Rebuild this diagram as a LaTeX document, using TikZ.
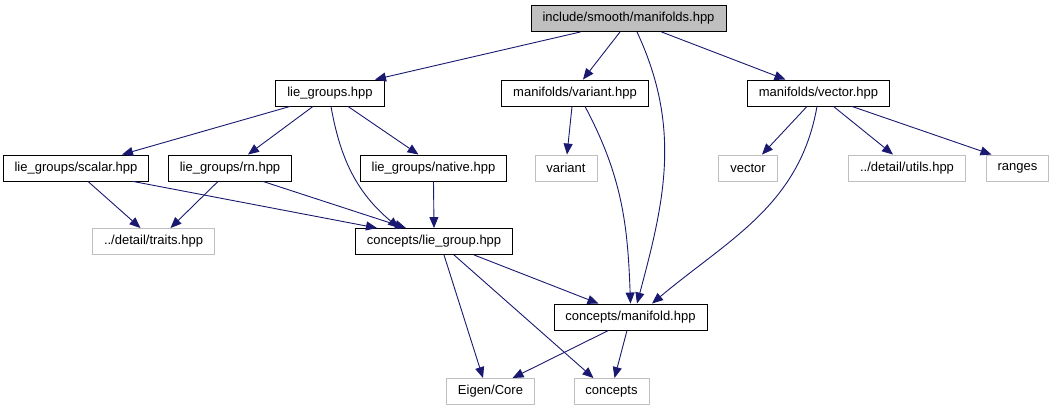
\documentclass[tikz,border=0pt]{standalone}
\usepackage{fontspec}
\setmainfont{Liberation Sans}
\usetikzlibrary{arrows.meta}
\definecolor{edgeblue}{HTML}{191970}
\definecolor{boxgray}{HTML}{BFBFBF}
\tikzset{filebox/.style={draw=black, line width=0.9pt, rectangle, minimum height=26pt, inner xsep=11.5pt, inner ysep=0pt, font=\fontsize{13}{15}\selectfont},
  rootbox/.style={filebox, fill=boxgray},
  sysbox/.style={filebox, draw=boxgray},
  dep/.style={-{Triangle[length=11pt, width=9pt]}, draw=edgeblue, line width=0.9pt}}

\begin{document}
\begin{tikzpicture}[x=1pt, y=-1pt]
  \useasboundingbox (0,0) rectangle (1061,411);
  \node[rootbox] (top)  at (628.5,18.5) {include/smooth/manifolds.hpp};
  \node[filebox] (lgs)  at (330,93)     {lie\_groups.hpp};
  \node[filebox] (varh) at (575,93)     {manifolds/variant.hpp};
  \node[filebox] (vech) at (818.5,93)   {manifolds/vector.hpp};
  \node[filebox] (scal) at (76,168)     {lie\_groups/scalar.hpp};
  \node[filebox] (rn)   at (230,168)    {lie\_groups/rn.hpp};
  \node[filebox] (nat)  at (433.5,168)  {lie\_groups/native.hpp};
  \node[sysbox]  (variant) at (566,168) {variant};
  \node[sysbox]  (vector)  at (748,168) {vector};
  \node[sysbox]  (utils)   at (907,168) {../detail/utils.hpp};
  \node[sysbox]  (ranges)  at (1017.5,168) {ranges};
  \node[sysbox]  (traits)  at (153.5,241.5) {../detail/traits.hpp};
  \node[filebox] (liegrp)  at (434,241.5) {concepts/lie\_group.hpp};
  \node[filebox] (manif)   at (630.5,317) {concepts/manifold.hpp};
  \node[sysbox]  (eigen)   at (490.5,391.5) {Eigen/Core};
  \node[sysbox]  (concepts) at (611.5,391.5) {concepts};
  % root includes
  \draw[dep] ([xshift=-48pt]top.south) -- ([xshift=45pt]lgs.north);
  \draw[dep] ([xshift=-8.5pt]top.south) -- ([xshift=8pt]varh.north);
  \draw[dep] ([xshift=33pt]top.south) -- ([xshift=-33pt]vech.north);
  \draw[dep] ([xshift=8.5pt]top.south) to[out=-65, in=75] ([xshift=6.5pt]manif.north);
  % lie_groups.hpp
  \draw[dep] ([xshift=-40pt]lgs.south) -- ([xshift=46pt]scal.north);
  \draw[dep] ([xshift=-17pt]lgs.south) -- ([xshift=18pt]rn.north);
  \draw[dep] ([xshift=18pt]lgs.south) -- ([xshift=-15pt]nat.north);
  \draw[dep] ([xshift=1pt]lgs.south) to[out=-80, in=140] ([xshift=-35pt]liegrp.north);
  % manifolds/variant.hpp
  \draw[dep] ([xshift=-3pt]varh.south) -- ([xshift=1pt]variant.north);
  \draw[dep] ([xshift=10pt]varh.south) to[out=-62, in=92] (manif.north);
  % manifolds/vector.hpp
  \draw[dep] ([xshift=-11.5pt]vech.south) -- ([xshift=14pt]vector.north);
  \draw[dep] ([xshift=15pt]vech.south) -- ([xshift=-14pt]utils.north);
  \draw[dep] ([xshift=33.5pt]vech.south) -- ([xshift=-26pt]ranges.north);
  \draw[dep] ([xshift=-1.5pt]vech.south) to[out=-100, in=40] ([xshift=21.5pt]manif.north);
  % lie group headers
  \draw[dep] ([xshift=12pt]scal.south) -- ([xshift=-13pt]traits.north);
  \draw[dep] ([xshift=57pt]scal.south) -- ([xshift=-57pt]liegrp.north);
  \draw[dep] ([xshift=-12pt]rn.south) -- ([xshift=17pt]traits.north);
  \draw[dep] ([xshift=33pt]rn.south) -- ([xshift=-28pt]liegrp.north);
  \draw[dep] (nat.south) -- (liegrp.north);
  % concepts
  \draw[dep] ([xshift=10pt]liegrp.south) -- ([xshift=-7.5pt]eigen.north);
  \draw[dep] ([xshift=20pt]liegrp.south) -- ([xshift=-18pt]concepts.north);
  \draw[dep] ([xshift=40pt]liegrp.south) -- ([xshift=-32pt]manif.north);
  \draw[dep] ([xshift=-22pt]manif.south) -- ([xshift=22pt]eigen.north);
  \draw[dep] ([xshift=-3.5pt]manif.south) -- ([xshift=3pt]concepts.north);
\end{tikzpicture}
\end{document}
